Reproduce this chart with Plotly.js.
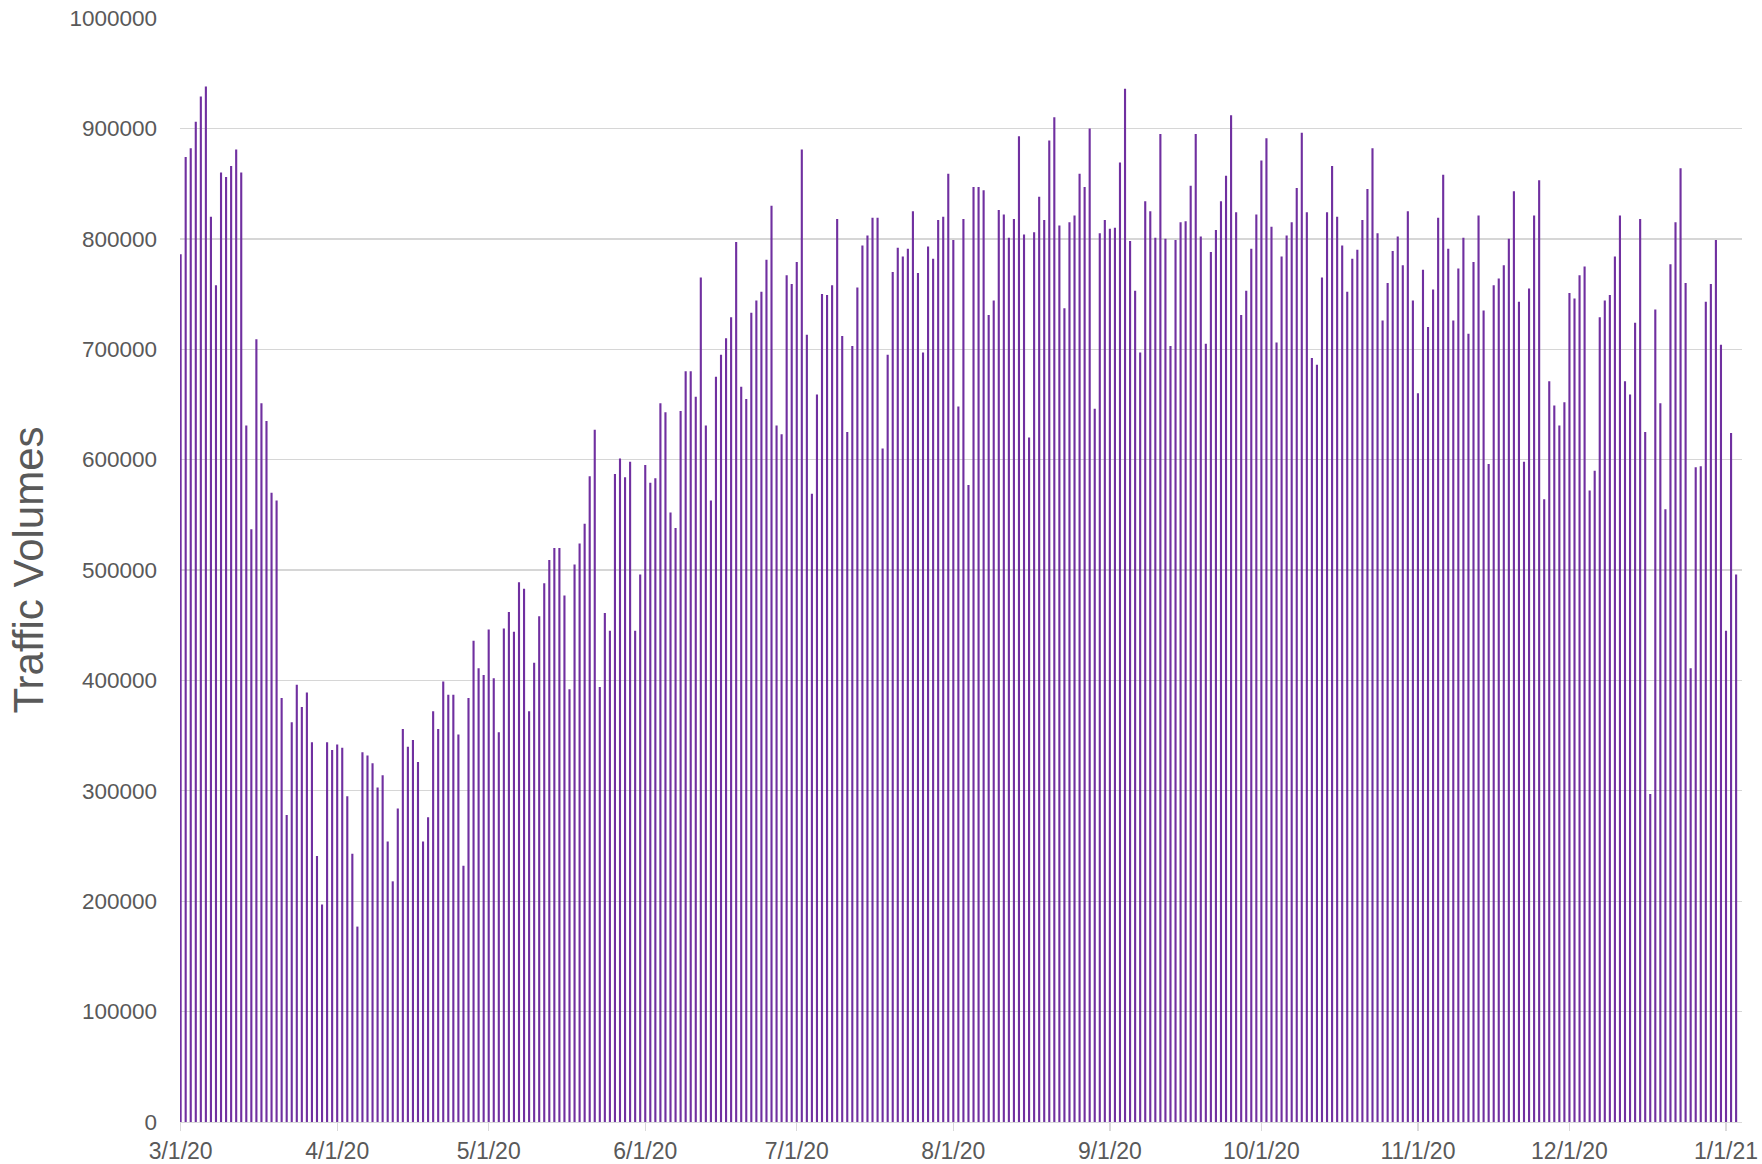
<!DOCTYPE html>
<html>
<head>
<meta charset="utf-8">
<script src="https://cdn.plot.ly/plotly-3.0.1.min.js"></script>
<style>html,body{margin:0;padding:0;background:#fff;}#chart{width:1762px;height:1164px;}</style>
</head>
<body>
<div id="chart"></div>
<script>
// Daily traffic volumes, one array per month (starting 3/1/2020)
const startDate = '2020-03-01';
const mar = [786000,874000,882000,906000,929000,938000,820000,758000,860000,856000,866000,881000,860000,631000,537000,709000,651000,635000,570000,563000,384000,278000,362000,396000,376000,389000,344000,241000,197000,344000,337000];
const apr = [342000,339000,295000,243000,177000,335000,332000,325000,303000,314000,254000,218000,284000,356000,340000,346000,326000,254000,276000,372000,356000,399000,387000,387000,351000,232000,384000,436000,411000,405000];
const may = [446000,402000,353000,447000,462000,444000,489000,483000,372000,416000,458000,488000,509000,520000,520000,477000,392000,505000,524000,542000,585000,627000,394000,461000,445000,587000,601000,584000,598000,445000,496000];
const jun = [595000,579000,583000,651000,643000,552000,538000,644000,680000,680000,657000,765000,631000,563000,675000,695000,710000,729000,797000,666000,655000,733000,744000,752000,781000,830000,631000,623000,767000,759000];
const jul = [779000,881000,713000,569000,659000,750000,749000,758000,818000,712000,625000,703000,756000,794000,803000,819000,819000,610000,695000,770000,792000,784000,791000,825000,769000,697000,793000,782000,817000,820000,859000];
const aug = [799000,648000,818000,577000,847000,847000,844000,731000,744000,826000,822000,801000,818000,893000,804000,620000,806000,838000,817000,889000,910000,812000,737000,815000,821000,859000,847000,900000,646000,805000,817000];
const sep = [809000,810000,869000,936000,798000,753000,697000,834000,825000,801000,895000,800000,703000,799000,815000,816000,848000,895000,802000,705000,788000,808000,834000,857000,912000,824000,731000,753000,791000,822000];
const oct = [871000,891000,811000,706000,784000,803000,815000,846000,896000,824000,692000,686000,765000,824000,866000,820000,794000,752000,782000,790000,817000,845000,882000,805000,726000,760000,789000,802000,776000,825000,744000];
const nov = [660000,772000,720000,754000,819000,858000,791000,726000,773000,801000,714000,779000,821000,735000,596000,758000,764000,776000,800000,843000,743000,598000,755000,821000,853000,564000,671000,649000,631000,652000];
const dec = [751000,746000,767000,775000,572000,590000,729000,744000,749000,784000,821000,671000,659000,724000,818000,625000,297000,736000,651000,555000,777000,815000,864000,760000,411000,593000,594000,743000,759000,799000,704000];
const jan = [445000,624000,496000];

const yTitle = 'Traffic Volumes';

const values = [].concat(mar, apr, may, jun, jul, aug, sep, oct, nov, dec, jan);
const dates = [];
{
  const d0 = new Date(startDate + 'T00:00:00Z');
  for (let i = 0; i < values.length; i++) {
    const d = new Date(d0.getTime() + i * 86400000);
    dates.push(d.toISOString().slice(0, 10));
  }
}

const font = 'Liberation Sans, Arial, sans-serif';
const grey = '#595959';

Plotly.newPlot('chart', [{
  type: 'bar',
  x: dates,
  y: values,
  marker: {color: '#7030a0', line: {width: 0}},
  hoverinfo: 'x+y'
}], {
  width: 1762, height: 1164,
  margin: {l: 180, r: 20, t: 18, b: 42, pad: 0},
  paper_bgcolor: '#ffffff',
  plot_bgcolor: '#ffffff',
  bargap: 0.58,
  showlegend: false,
  font: {family: font, color: grey},
  xaxis: {
    type: 'date',
    range: ['2020-02-29 21:00', '2021-01-04 04:00'],
    tick0: '2020-03-01',
    dtick: 'M1',
    tickformat: '%-m/%-d/%y',
    ticks: 'outside',
    ticklen: 8,
    tickcolor: '#d9d9d9',
    tickwidth: 1.3,
    showline: true,
    linecolor: '#d9d9d9',
    linewidth: 1.3,
    showgrid: false,
    zeroline: false,
    tickfont: {family: font, size: 23, color: grey},
    automargin: false
  },
  yaxis: {
    range: [0, 1000000],
    dtick: 100000,
    tick0: 0,
    tickformat: 'd',
    showgrid: true,
    gridcolor: '#d6d6d6',
    gridwidth: 1.4,
    zeroline: false,
    showline: false,
    ticks: '',
    ticklabelstandoff: 22,
    tickfont: {family: font, size: 22.5, color: grey},
    title: {text: yTitle, font: {family: font, size: 42, color: grey}, standoff: 12},
    automargin: false
  }
}, {displayModeBar: false, staticPlot: true});
</script>
</body>
</html>
